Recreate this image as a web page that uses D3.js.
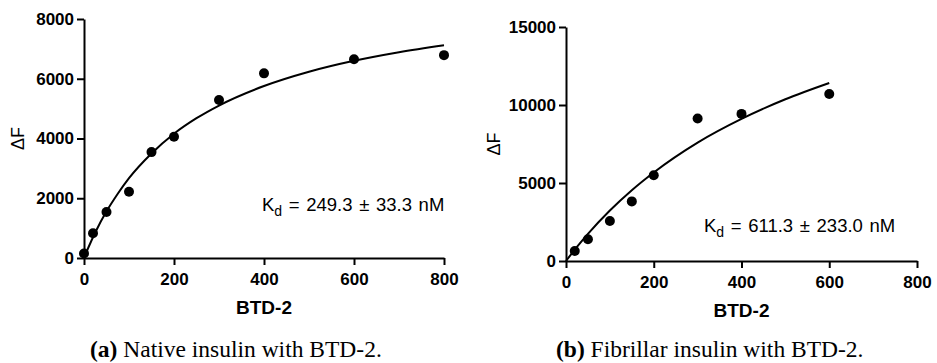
<!DOCTYPE html>
<html>
<head>
  <meta charset="utf-8" />
  <title>BTD-2 binding curves</title>
  <style type="text/css">
    body { margin: 0; background: #fff; }
    svg { display: block; }
    .axis path, .axis line { stroke: #000; stroke-width: 2px; }
    .axis text { font-family: 'Liberation Sans', Arial, sans-serif; font-weight: bold; font-size: 17px; fill: #000; }
  </style>
</head>
<body>
  <div id="graph"></div>

  <script src="https://d3js.org/d3.v7.min.js"></script>
  <script>
// measured points, native insulin (a)
var nativeX = [0, 20, 50, 100, 150, 200, 300, 400, 600, 800];
var nativeY = [150, 830, 1540, 2220, 3545, 4060, 5290, 6180, 6650, 6790];
// fitted curve (a)
var nativeFitX = [0, 10, 25, 50, 75, 100, 150, 200, 250, 300, 400, 500, 600, 700, 800];
var nativeFitY = [0, 360, 852, 1561, 2152, 2674, 3500, 4160, 4679, 5104, 5757, 6236, 6602, 6890, 7125];

// measured points, fibrillar insulin (b)
var fibX = [20, 50, 100, 150, 200, 300, 400, 600];
var fibY = [640, 1390, 2560, 3820, 5500, 9130, 9430, 10710];
// fitted curve (b)
var fibFitX = [0, 25, 50, 100, 150, 200, 300, 400, 500, 600];
var fibFitY = [0, 905, 1741, 3239, 4540, 5678, 7592, 9111, 10368, 11410];

var xTicks = [0, 200, 400, 600, 800];
var nativeYTicks = [0, 2000, 4000, 6000, 8000];
var fibYTicks = [0, 5000, 10000, 15000];

var svg = d3.select("#graph").append("svg")
    .attr("width", 937)
    .attr("height", 363);

function zip(a, b) { return a.map(function(v, i) { return [v, b[i]]; }); }

function drawPanel(p) {
  var x = d3.scaleLinear().domain([0, 800]).range([p.left, p.right]);
  var y = d3.scaleLinear().domain([0, p.yMax]).range([p.bottom, p.top]);

  svg.append("g")
      .attr("class", "axis")
      .attr("transform", "translate(" + p.left + ",0)")
      .call(d3.axisLeft(y).tickValues(p.yTicks).tickFormat(d3.format("d"))
        .tickSize(7).tickPadding(3).tickSizeOuter(0));

  svg.append("g")
      .attr("class", "axis")
      .attr("transform", "translate(0," + p.bottom + ")")
      .call(d3.axisBottom(x).tickValues(xTicks).tickFormat(d3.format("d"))
        .tickSize(7).tickPadding(8).tickSizeOuter(0));

  // fit line
  var line = d3.line()
      .x(function(d) { return x(d[0]); })
      .y(function(d) { return y(d[1]); })
      .curve(d3.curveMonotoneX);

  svg.append("path")
      .datum(zip(p.fitX, p.fitY))
      .attr("fill", "none")
      .attr("stroke", "#000")
      .attr("stroke-width", 2)
      .attr("d", line);

  // dots
  svg.append("g").selectAll("circle")
      .data(zip(p.px, p.py))
    .enter().append("circle")
      .attr("r", 5)
      .attr("cx", function(d) { return x(d[0]); })
      .attr("cy", function(d) { return y(d[1]); })
      .attr("fill", "#000");

  // y label
  svg.append("text")
      .attr("transform", "translate(" + p.yLabelX + "," + ((p.top + p.bottom) / 2) + ") rotate(-90)")
      .attr("text-anchor", "middle")
      .style("font-family", "'Liberation Sans', Arial, sans-serif")
      .style("font-size", "18px")
      .text("\u0394F");

  // x label
  svg.append("text")
      .attr("x", (p.left + p.right) / 2)
      .attr("y", p.xLabelY)
      .attr("text-anchor", "middle")
      .style("font-family", "'Liberation Sans', Arial, sans-serif")
      .style("font-size", "19px")
      .style("font-weight", "bold")
      .text("BTD-2");

  // Kd
  var kd = svg.append("text")
      .attr("x", p.kdX)
      .attr("y", p.kdY)
      .style("font-family", "'Liberation Sans', Arial, sans-serif")
      .style("font-size", "18.5px")
      .style("word-spacing", "1.5px");
  kd.append("tspan").text("K");
  kd.append("tspan").attr("dy", 5).style("font-size", "14px").text("d");
  kd.append("tspan").attr("dy", -5).text(" = " + p.kdText);

  // caption
  var cap = svg.append("text")
      .attr("x", p.capX)
      .attr("y", 357)
      .style("font-family", "'Liberation Serif', 'Times New Roman', serif")
      .style("font-size", "23.5px");
  cap.append("tspan").style("font-weight", "bold").text(p.capTag);
  cap.append("tspan").text(" " + p.capText);
}

drawPanel({
  left: 84, right: 444, top: 19, bottom: 258, yMax: 8000, yTicks: nativeYTicks,
  px: nativeX, py: nativeY, fitX: nativeFitX, fitY: nativeFitY,
  yLabelX: 24, xLabelY: 314,
  kdX: 262, kdY: 211, kdText: "249.3 \u00B1 33.3 nM",
  capX: 90, capTag: "(a)", capText: "Native insulin with BTD-2."
});

drawPanel({
  left: 566, right: 917, top: 27, bottom: 261, yMax: 15000, yTicks: fibYTicks,
  px: fibX, py: fibY, fitX: fibFitX, fitY: fibFitY,
  yLabelX: 500, xLabelY: 317,
  kdX: 704, kdY: 232, kdText: "611.3 \u00B1 233.0 nM",
  capX: 556, capTag: "(b)", capText: "Fibrillar insulin with BTD-2."
});
  </script>
</body>
</html>
